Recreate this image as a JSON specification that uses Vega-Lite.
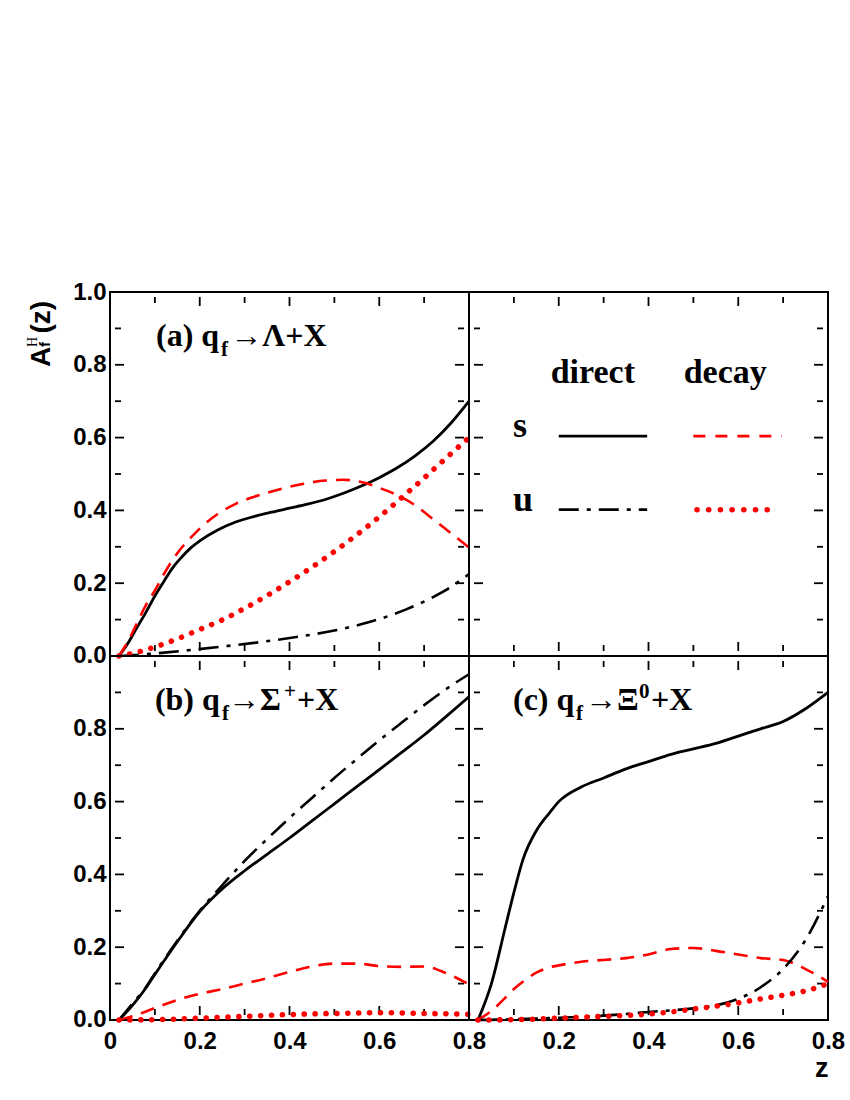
{
  "$schema": "https://vega.github.io/schema/vega-lite/v6.json",
  "padding": {"left": 24, "top": 279, "right": 5, "bottom": 5},
  "config": {
    "view": {"stroke": "black", "strokeWidth": 2},
    "axis": {"domain": false, "ticks": false, "grid": false, "labelFont": "Liberation Sans", "labelFontWeight": "bold", "labelFontSize": 24, "labelColor": "black", "labelOverlap": false, "labelFlush": false, "labelBound": false}
  },
  "datasets": {
    "txMaj": [{"v":0.2},{"v":0.4},{"v":0.6}],
    "txMin": [{"v":0.1},{"v":0.3},{"v":0.5},{"v":0.7}],
    "tyMaj": [{"v":0.2},{"v":0.4},{"v":0.6},{"v":0.8}],
    "tyMin": [{"v":0.1},{"v":0.3},{"v":0.5},{"v":0.7},{"v":0.9}],
    "a": [
      {"s":"sd","x":0.02,"y":0},{"s":"sd","x":0.04,"y":0.035},{"s":"sd","x":0.06,"y":0.078},{"s":"sd","x":0.08,"y":0.12},{"s":"sd","x":0.1,"y":0.165},{"s":"sd","x":0.12,"y":0.205},{"s":"sd","x":0.14,"y":0.243},{"s":"sd","x":0.16,"y":0.272},{"s":"sd","x":0.18,"y":0.297},{"s":"sd","x":0.2,"y":0.316},{"s":"sd","x":0.24,"y":0.346},{"s":"sd","x":0.28,"y":0.368},{"s":"sd","x":0.32,"y":0.383},{"s":"sd","x":0.36,"y":0.395},{"s":"sd","x":0.4,"y":0.406},{"s":"sd","x":0.44,"y":0.417},{"s":"sd","x":0.48,"y":0.43},{"s":"sd","x":0.52,"y":0.447},{"s":"sd","x":0.56,"y":0.467},{"s":"sd","x":0.6,"y":0.49},{"s":"sd","x":0.64,"y":0.517},{"s":"sd","x":0.68,"y":0.55},{"s":"sd","x":0.72,"y":0.59},{"s":"sd","x":0.76,"y":0.64},{"s":"sd","x":0.8,"y":0.7},
      {"s":"sy","x":0.02,"y":0},{"s":"sy","x":0.04,"y":0.04},{"s":"sy","x":0.06,"y":0.09},{"s":"sy","x":0.08,"y":0.14},{"s":"sy","x":0.1,"y":0.18},{"s":"sy","x":0.12,"y":0.225},{"s":"sy","x":0.14,"y":0.265},{"s":"sy","x":0.16,"y":0.298},{"s":"sy","x":0.18,"y":0.325},{"s":"sy","x":0.2,"y":0.35},{"s":"sy","x":0.24,"y":0.39},{"s":"sy","x":0.28,"y":0.418},{"s":"sy","x":0.32,"y":0.437},{"s":"sy","x":0.36,"y":0.452},{"s":"sy","x":0.4,"y":0.465},{"s":"sy","x":0.44,"y":0.475},{"s":"sy","x":0.48,"y":0.482},{"s":"sy","x":0.52,"y":0.484},{"s":"sy","x":0.56,"y":0.478},{"s":"sy","x":0.6,"y":0.462},{"s":"sy","x":0.64,"y":0.442},{"s":"sy","x":0.68,"y":0.414},{"s":"sy","x":0.72,"y":0.376},{"s":"sy","x":0.76,"y":0.337},{"s":"sy","x":0.8,"y":0.298},
      {"s":"ud","x":0.02,"y":0},{"s":"ud","x":0.08,"y":0.005},{"s":"ud","x":0.16,"y":0.014},{"s":"ud","x":0.25,"y":0.026},{"s":"ud","x":0.34,"y":0.039},{"s":"ud","x":0.42,"y":0.053},{"s":"ud","x":0.5,"y":0.07},{"s":"ud","x":0.58,"y":0.094},{"s":"ud","x":0.66,"y":0.128},{"s":"ud","x":0.72,"y":0.162},{"s":"ud","x":0.76,"y":0.19},{"s":"ud","x":0.8,"y":0.225},
      {"s":"uy","x":0.02,"y":0},{"s":"uy","x":0.06,"y":0.01},{"s":"uy","x":0.1,"y":0.025},{"s":"uy","x":0.15,"y":0.047},{"s":"uy","x":0.2,"y":0.073},{"s":"uy","x":0.25,"y":0.099},{"s":"uy","x":0.3,"y":0.131},{"s":"uy","x":0.35,"y":0.166},{"s":"uy","x":0.4,"y":0.204},{"s":"uy","x":0.45,"y":0.244},{"s":"uy","x":0.5,"y":0.287},{"s":"uy","x":0.55,"y":0.333},{"s":"uy","x":0.6,"y":0.382},{"s":"uy","x":0.65,"y":0.435},{"s":"uy","x":0.7,"y":0.489},{"s":"uy","x":0.75,"y":0.545},{"s":"uy","x":0.8,"y":0.6}
    ],
    "b": [
      {"s":"sd","x":0.02,"y":0},{"s":"sd","x":0.05,"y":0.04},{"s":"sd","x":0.08,"y":0.088},{"s":"sd","x":0.1,"y":0.125},{"s":"sd","x":0.15,"y":0.215},{"s":"sd","x":0.2,"y":0.298},{"s":"sd","x":0.25,"y":0.36},{"s":"sd","x":0.3,"y":0.41},{"s":"sd","x":0.35,"y":0.455},{"s":"sd","x":0.4,"y":0.5},{"s":"sd","x":0.45,"y":0.547},{"s":"sd","x":0.5,"y":0.594},{"s":"sd","x":0.55,"y":0.641},{"s":"sd","x":0.6,"y":0.688},{"s":"sd","x":0.65,"y":0.735},{"s":"sd","x":0.7,"y":0.783},{"s":"sd","x":0.75,"y":0.835},{"s":"sd","x":0.8,"y":0.888},
      {"s":"ud","x":0.02,"y":0},{"s":"ud","x":0.05,"y":0.045},{"s":"ud","x":0.08,"y":0.09},{"s":"ud","x":0.1,"y":0.128},{"s":"ud","x":0.15,"y":0.218},{"s":"ud","x":0.2,"y":0.3},{"s":"ud","x":0.25,"y":0.37},{"s":"ud","x":0.3,"y":0.437},{"s":"ud","x":0.35,"y":0.497},{"s":"ud","x":0.4,"y":0.555},{"s":"ud","x":0.45,"y":0.61},{"s":"ud","x":0.5,"y":0.665},{"s":"ud","x":0.55,"y":0.717},{"s":"ud","x":0.6,"y":0.768},{"s":"ud","x":0.65,"y":0.817},{"s":"ud","x":0.7,"y":0.865},{"s":"ud","x":0.75,"y":0.91},{"s":"ud","x":0.8,"y":0.95},
      {"s":"sy","x":0.02,"y":0},{"s":"sy","x":0.05,"y":0.01},{"s":"sy","x":0.1,"y":0.033},{"s":"sy","x":0.15,"y":0.055},{"s":"sy","x":0.2,"y":0.072},{"s":"sy","x":0.25,"y":0.085},{"s":"sy","x":0.3,"y":0.1},{"s":"sy","x":0.35,"y":0.115},{"s":"sy","x":0.4,"y":0.132},{"s":"sy","x":0.45,"y":0.147},{"s":"sy","x":0.5,"y":0.155},{"s":"sy","x":0.55,"y":0.155},{"s":"sy","x":0.6,"y":0.148},{"s":"sy","x":0.65,"y":0.146},{"s":"sy","x":0.7,"y":0.147},{"s":"sy","x":0.75,"y":0.128},{"s":"sy","x":0.8,"y":0.098},
      {"s":"uy","x":0.02,"y":0},{"s":"uy","x":0.1,"y":0.001},{"s":"uy","x":0.2,"y":0.005},{"s":"uy","x":0.3,"y":0.01},{"s":"uy","x":0.4,"y":0.015},{"s":"uy","x":0.5,"y":0.018},{"s":"uy","x":0.6,"y":0.02},{"s":"uy","x":0.7,"y":0.018},{"s":"uy","x":0.8,"y":0.016}
    ],
    "c": [
      {"s":"sd","x":0.02,"y":0},{"s":"sd","x":0.05,"y":0.1},{"s":"sd","x":0.08,"y":0.25},{"s":"sd","x":0.1,"y":0.35},{"s":"sd","x":0.12,"y":0.44},{"s":"sd","x":0.15,"y":0.52},{"s":"sd","x":0.18,"y":0.57},{"s":"sd","x":0.2,"y":0.6},{"s":"sd","x":0.25,"y":0.64},{"s":"sd","x":0.3,"y":0.665},{"s":"sd","x":0.35,"y":0.69},{"s":"sd","x":0.4,"y":0.71},{"s":"sd","x":0.45,"y":0.73},{"s":"sd","x":0.5,"y":0.745},{"s":"sd","x":0.55,"y":0.76},{"s":"sd","x":0.6,"y":0.78},{"s":"sd","x":0.65,"y":0.8},{"s":"sd","x":0.7,"y":0.82},{"s":"sd","x":0.75,"y":0.855},{"s":"sd","x":0.8,"y":0.9},
      {"s":"sy","x":0.02,"y":0},{"s":"sy","x":0.05,"y":0.025},{"s":"sy","x":0.08,"y":0.06},{"s":"sy","x":0.1,"y":0.085},{"s":"sy","x":0.12,"y":0.105},{"s":"sy","x":0.15,"y":0.13},{"s":"sy","x":0.18,"y":0.145},{"s":"sy","x":0.2,"y":0.15},{"s":"sy","x":0.25,"y":0.16},{"s":"sy","x":0.3,"y":0.165},{"s":"sy","x":0.35,"y":0.17},{"s":"sy","x":0.4,"y":0.18},{"s":"sy","x":0.45,"y":0.195},{"s":"sy","x":0.5,"y":0.198},{"s":"sy","x":0.55,"y":0.19},{"s":"sy","x":0.6,"y":0.18},{"s":"sy","x":0.65,"y":0.17},{"s":"sy","x":0.7,"y":0.165},{"s":"sy","x":0.75,"y":0.14},{"s":"sy","x":0.8,"y":0.105},
      {"s":"ud","x":0.02,"y":0},{"s":"ud","x":0.1,"y":0.002},{"s":"ud","x":0.2,"y":0.006},{"s":"ud","x":0.3,"y":0.012},{"s":"ud","x":0.4,"y":0.022},{"s":"ud","x":0.5,"y":0.032},{"s":"ud","x":0.55,"y":0.04},{"s":"ud","x":0.6,"y":0.058},{"s":"ud","x":0.65,"y":0.09},{"s":"ud","x":0.7,"y":0.14},{"s":"ud","x":0.75,"y":0.22},{"s":"ud","x":0.8,"y":0.34},
      {"s":"uy","x":0.02,"y":0},{"s":"uy","x":0.1,"y":0.001},{"s":"uy","x":0.2,"y":0.005},{"s":"uy","x":0.3,"y":0.01},{"s":"uy","x":0.4,"y":0.016},{"s":"uy","x":0.45,"y":0.022},{"s":"uy","x":0.5,"y":0.03},{"s":"uy","x":0.55,"y":0.038},{"s":"uy","x":0.6,"y":0.047},{"s":"uy","x":0.65,"y":0.058},{"s":"uy","x":0.7,"y":0.068},{"s":"uy","x":0.75,"y":0.08},{"s":"uy","x":0.8,"y":0.1}
    ],
    "leg": [
      {"s":"sd","x":0.2,"y":0.604},{"s":"sd","x":0.397,"y":0.604},
      {"s":"sy","x":0.5,"y":0.604},{"s":"sy","x":0.697,"y":0.604},
      {"s":"ud","x":0.2,"y":0.402},{"s":"ud","x":0.397,"y":0.402},
      {"s":"uy","x":0.508,"y":0.402},{"s":"uy","x":0.689,"y":0.402}
    ],
    "legHead": [{"x":0.276,"y":0.75,"t":"direct"},{"x":0.571,"y":0.75,"t":"decay"}],
    "legRow": [{"x":0.098,"y":0.602,"t":"s"},{"x":0.098,"y":0.398,"t":"u"}],
    "taMain": [{"x":0.1025,"y":0.852,"t":"(a) q"},{"x":0.268,"y":0.852,"t":"→Λ+X"}],
    "taSub": [{"x":0.2473,"y":0.824,"t":"f"}],
    "tbMain": [{"x":0.1,"y":0.852,"t":"(b) q"},{"x":0.263,"y":0.852,"t":"→Σ"},{"x":0.4167,"y":0.852,"t":"+X"}],
    "tbSub": [{"x":0.2496,"y":0.824,"t":"f"},{"x":0.3877,"y":0.885,"t":"+"}],
    "tcMain": [{"x":0.098,"y":0.852,"t":"(c) q"},{"x":0.2585,"y":0.852,"t":"→Ξ"},{"x":0.4056,"y":0.852,"t":"+X"}],
    "tcSub": [{"x":0.2384,"y":0.824,"t":"f"},{"x":0.3788,"y":0.885,"t":"0"}],
    "yMain": [{"x":-0.134,"y":0.794,"t":"A"},{"x":-0.134,"y":0.886,"t":"(z)"}],
    "ySub": [{"x":-0.134,"y":0.849,"t":"f"}],
    "ySup": [{"x":-0.163,"y":0.849,"t":"H"}]
  },
  "concat": [
    {
      "width": 359, "height": 364,
      "resolve": {"axis": {"x": "independent", "y": "independent"}},
      "layer": [
        {"data": {"name": "a"}, "transform": [{"filter": "datum.s == 'sd'"}], "mark": {"type": "line", "color": "black", "strokeWidth": 2.8, "interpolate": "monotone"},
         "encoding": {
           "x": {"field": "x", "type": "quantitative", "scale": {"domain": [0.011142, 0.788858], "nice": false, "zero": false}, "axis": null},
           "y": {"field": "y", "type": "quantitative", "scale": {"domain": [0.013736, 0.986264], "nice": false, "zero": false}, "axis": {"orient": "left", "title": null, "labelPadding": 4, "values": [0,0.2,0.4,0.6,0.8,1.0], "format": ".1f"}}
         }},
        {"data": {"name": "txMaj"}, "mark": {"type": "bar", "color": "black", "size": 1.8}, "encoding": {"x": {"field": "v", "type": "quantitative", "axis": null}, "y": {"datum": 0.0137, "axis": null}, "y2": {"datum": 0.0385}}},
        {"data": {"name": "txMin"}, "mark": {"type": "bar", "color": "black", "size": 1.8}, "encoding": {"x": {"field": "v", "type": "quantitative", "axis": null}, "y": {"datum": 0.0137, "axis": null}, "y2": {"datum": 0.0302}}},
        {"data": {"name": "txMaj"}, "mark": {"type": "bar", "color": "black", "size": 1.8}, "encoding": {"x": {"field": "v", "type": "quantitative", "axis": null}, "y": {"datum": 0.9863, "axis": null}, "y2": {"datum": 0.9615}}},
        {"data": {"name": "txMin"}, "mark": {"type": "bar", "color": "black", "size": 1.8}, "encoding": {"x": {"field": "v", "type": "quantitative", "axis": null}, "y": {"datum": 0.9863, "axis": null}, "y2": {"datum": 0.9698}}},
        {"data": {"name": "tyMaj"}, "mark": {"type": "bar", "color": "black", "size": 1.8}, "encoding": {"y": {"field": "v", "type": "quantitative", "axis": null}, "x": {"datum": 0.0111, "axis": null}, "x2": {"datum": 0.0312}}},
        {"data": {"name": "tyMin"}, "mark": {"type": "bar", "color": "black", "size": 1.8}, "encoding": {"y": {"field": "v", "type": "quantitative", "axis": null}, "x": {"datum": 0.0111, "axis": null}, "x2": {"datum": 0.0245}}},
        {"data": {"name": "tyMaj"}, "mark": {"type": "bar", "color": "black", "size": 1.8}, "encoding": {"y": {"field": "v", "type": "quantitative", "axis": null}, "x": {"datum": 0.7889, "axis": null}, "x2": {"datum": 0.7688}}},
        {"data": {"name": "tyMin"}, "mark": {"type": "bar", "color": "black", "size": 1.8}, "encoding": {"y": {"field": "v", "type": "quantitative", "axis": null}, "x": {"datum": 0.7889, "axis": null}, "x2": {"datum": 0.7755}}},
        {"data": {"name": "a"}, "transform": [{"filter": "datum.s == 'sy'"}], "mark": {"type": "line", "color": "#ff0000", "strokeWidth": 2.6, "strokeDash": [14, 9], "interpolate": "monotone"},
         "encoding": {"x": {"field": "x", "type": "quantitative", "axis": null}, "y": {"field": "y", "type": "quantitative", "axis": null}}},
        {"data": {"name": "a"}, "transform": [{"filter": "datum.s == 'ud'"}], "mark": {"type": "line", "color": "black", "strokeWidth": 2.6, "strokeDash": [20, 8, 4, 8], "interpolate": "monotone"},
         "encoding": {"x": {"field": "x", "type": "quantitative", "axis": null}, "y": {"field": "y", "type": "quantitative", "axis": null}}},
        {"data": {"name": "a"}, "transform": [{"filter": "datum.s == 'uy'"}], "mark": {"type": "line", "color": "#ff0000", "strokeWidth": 5.5, "strokeCap": "round", "strokeDash": [0.1, 10.8], "interpolate": "monotone"},
         "encoding": {"x": {"field": "x", "type": "quantitative", "axis": null}, "y": {"field": "y", "type": "quantitative", "axis": null}}},
        {"data": {"name": "taMain"}, "mark": {"type": "text", "font": "Liberation Serif", "fontWeight": "bold", "fontSize": 32, "align": "left", "baseline": "alphabetic", "color": "black"},
         "encoding": {"x": {"field": "x", "type": "quantitative", "axis": null}, "y": {"field": "y", "type": "quantitative", "axis": null}, "text": {"field": "t"}}},
        {"data": {"name": "taSub"}, "mark": {"type": "text", "font": "Liberation Serif", "fontWeight": "bold", "fontSize": 21, "align": "left", "baseline": "alphabetic", "color": "black"},
         "encoding": {"x": {"field": "x", "type": "quantitative", "axis": null}, "y": {"field": "y", "type": "quantitative", "axis": null}, "text": {"field": "t"}}},
        {"data": {"name": "yMain"}, "mark": {"type": "text", "font": "Liberation Sans", "fontWeight": "bold", "fontSize": 28, "align": "left", "baseline": "alphabetic", "angle": 270, "color": "black"},
         "encoding": {"x": {"field": "x", "type": "quantitative", "axis": null}, "y": {"field": "y", "type": "quantitative", "axis": null}, "text": {"field": "t"}}},
        {"data": {"name": "ySub"}, "mark": {"type": "text", "font": "Liberation Sans", "fontWeight": "bold", "fontSize": 15, "align": "left", "baseline": "alphabetic", "angle": 270, "color": "black"},
         "encoding": {"x": {"field": "x", "type": "quantitative", "axis": null}, "y": {"field": "y", "type": "quantitative", "axis": null}, "text": {"field": "t"}}},
        {"data": {"name": "ySup"}, "mark": {"type": "text", "font": "Liberation Serif", "fontSize": 14, "align": "left", "baseline": "alphabetic", "angle": 270, "color": "black"},
         "encoding": {"x": {"field": "x", "type": "quantitative", "axis": null}, "y": {"field": "y", "type": "quantitative", "axis": null}, "text": {"field": "t"}}}
      ]
    },
    {
      "width": 359, "height": 364,
      "resolve": {"axis": {"x": "independent", "y": "independent"}},
      "layer": [
        {"data": {"name": "leg"}, "transform": [{"filter": "datum.s == 'sd'"}], "mark": {"type": "line", "color": "black", "strokeWidth": 2.8},
         "encoding": {
           "x": {"field": "x", "type": "quantitative", "scale": {"domain": [0.011142, 0.788858], "nice": false, "zero": false}, "axis": null},
           "y": {"field": "y", "type": "quantitative", "scale": {"domain": [0.013736, 0.986264], "nice": false, "zero": false}, "axis": null}
         }},
        {"data": {"name": "txMaj"}, "mark": {"type": "bar", "color": "black", "size": 1.8}, "encoding": {"x": {"field": "v", "type": "quantitative", "axis": null}, "y": {"datum": 0.0137, "axis": null}, "y2": {"datum": 0.0385}}},
        {"data": {"name": "txMin"}, "mark": {"type": "bar", "color": "black", "size": 1.8}, "encoding": {"x": {"field": "v", "type": "quantitative", "axis": null}, "y": {"datum": 0.0137, "axis": null}, "y2": {"datum": 0.0302}}},
        {"data": {"name": "txMaj"}, "mark": {"type": "bar", "color": "black", "size": 1.8}, "encoding": {"x": {"field": "v", "type": "quantitative", "axis": null}, "y": {"datum": 0.9863, "axis": null}, "y2": {"datum": 0.9615}}},
        {"data": {"name": "txMin"}, "mark": {"type": "bar", "color": "black", "size": 1.8}, "encoding": {"x": {"field": "v", "type": "quantitative", "axis": null}, "y": {"datum": 0.9863, "axis": null}, "y2": {"datum": 0.9698}}},
        {"data": {"name": "tyMaj"}, "mark": {"type": "bar", "color": "black", "size": 1.8}, "encoding": {"y": {"field": "v", "type": "quantitative", "axis": null}, "x": {"datum": 0.0111, "axis": null}, "x2": {"datum": 0.0312}}},
        {"data": {"name": "tyMin"}, "mark": {"type": "bar", "color": "black", "size": 1.8}, "encoding": {"y": {"field": "v", "type": "quantitative", "axis": null}, "x": {"datum": 0.0111, "axis": null}, "x2": {"datum": 0.0245}}},
        {"data": {"name": "tyMaj"}, "mark": {"type": "bar", "color": "black", "size": 1.8}, "encoding": {"y": {"field": "v", "type": "quantitative", "axis": null}, "x": {"datum": 0.7889, "axis": null}, "x2": {"datum": 0.7688}}},
        {"data": {"name": "tyMin"}, "mark": {"type": "bar", "color": "black", "size": 1.8}, "encoding": {"y": {"field": "v", "type": "quantitative", "axis": null}, "x": {"datum": 0.7889, "axis": null}, "x2": {"datum": 0.7755}}},
        {"data": {"name": "leg"}, "transform": [{"filter": "datum.s == 'sy'"}], "mark": {"type": "line", "color": "#ff0000", "strokeWidth": 2.6, "strokeDash": [12, 10]},
         "encoding": {"x": {"field": "x", "type": "quantitative", "axis": null}, "y": {"field": "y", "type": "quantitative", "axis": null}}},
        {"data": {"name": "leg"}, "transform": [{"filter": "datum.s == 'ud'"}], "mark": {"type": "line", "color": "black", "strokeWidth": 2.6, "strokeDash": [20, 8, 4, 8]},
         "encoding": {"x": {"field": "x", "type": "quantitative", "axis": null}, "y": {"field": "y", "type": "quantitative", "axis": null}}},
        {"data": {"name": "leg"}, "transform": [{"filter": "datum.s == 'uy'"}], "mark": {"type": "line", "color": "#ff0000", "strokeWidth": 5.5, "strokeCap": "round", "strokeDash": [0.1, 11.6]},
         "encoding": {"x": {"field": "x", "type": "quantitative", "axis": null}, "y": {"field": "y", "type": "quantitative", "axis": null}}},
        {"data": {"name": "legHead"}, "mark": {"type": "text", "font": "Liberation Serif", "fontWeight": "bold", "fontSize": 34, "align": "center", "baseline": "alphabetic", "color": "black"},
         "encoding": {"x": {"field": "x", "type": "quantitative", "axis": null}, "y": {"field": "y", "type": "quantitative", "axis": null}, "text": {"field": "t"}}},
        {"data": {"name": "legRow"}, "mark": {"type": "text", "font": "Liberation Serif", "fontWeight": "bold", "fontSize": 36, "align": "left", "baseline": "alphabetic", "color": "black"},
         "encoding": {"x": {"field": "x", "type": "quantitative", "axis": null}, "y": {"field": "y", "type": "quantitative", "axis": null}, "text": {"field": "t"}}}
      ]
    },
    {
      "width": 359, "height": 364,
      "resolve": {"axis": {"x": "independent", "y": "independent"}},
      "layer": [
        {"data": {"name": "b"}, "transform": [{"filter": "datum.s == 'sd'"}], "mark": {"type": "line", "color": "black", "strokeWidth": 2.8, "interpolate": "monotone"},
         "encoding": {
           "x": {"field": "x", "type": "quantitative", "scale": {"domain": [0.011142, 0.788858], "nice": false, "zero": false}, "axis": {"orient": "bottom", "title": null, "labelPadding": 9, "values": [0,0.2,0.4,0.6,0.8], "labelExpr": "datum.value == 0 ? '0' : format(datum.value, '.1f')"}},
           "y": {"field": "y", "type": "quantitative", "scale": {"domain": [0.013736, 0.986264], "nice": false, "zero": false}, "axis": {"orient": "left", "title": null, "labelPadding": 4, "values": [0,0.2,0.4,0.6,0.8,1.0], "labelExpr": "datum.value > 0.95 ? '' : format(datum.value, '.1f')"}}
         }},
        {"data": {"name": "txMaj"}, "mark": {"type": "bar", "color": "black", "size": 1.8}, "encoding": {"x": {"field": "v", "type": "quantitative", "axis": null}, "y": {"datum": 0.0137, "axis": null}, "y2": {"datum": 0.0385}}},
        {"data": {"name": "txMin"}, "mark": {"type": "bar", "color": "black", "size": 1.8}, "encoding": {"x": {"field": "v", "type": "quantitative", "axis": null}, "y": {"datum": 0.0137, "axis": null}, "y2": {"datum": 0.0302}}},
        {"data": {"name": "txMaj"}, "mark": {"type": "bar", "color": "black", "size": 1.8}, "encoding": {"x": {"field": "v", "type": "quantitative", "axis": null}, "y": {"datum": 0.9863, "axis": null}, "y2": {"datum": 0.9615}}},
        {"data": {"name": "txMin"}, "mark": {"type": "bar", "color": "black", "size": 1.8}, "encoding": {"x": {"field": "v", "type": "quantitative", "axis": null}, "y": {"datum": 0.9863, "axis": null}, "y2": {"datum": 0.9698}}},
        {"data": {"name": "tyMaj"}, "mark": {"type": "bar", "color": "black", "size": 1.8}, "encoding": {"y": {"field": "v", "type": "quantitative", "axis": null}, "x": {"datum": 0.0111, "axis": null}, "x2": {"datum": 0.0312}}},
        {"data": {"name": "tyMin"}, "mark": {"type": "bar", "color": "black", "size": 1.8}, "encoding": {"y": {"field": "v", "type": "quantitative", "axis": null}, "x": {"datum": 0.0111, "axis": null}, "x2": {"datum": 0.0245}}},
        {"data": {"name": "tyMaj"}, "mark": {"type": "bar", "color": "black", "size": 1.8}, "encoding": {"y": {"field": "v", "type": "quantitative", "axis": null}, "x": {"datum": 0.7889, "axis": null}, "x2": {"datum": 0.7688}}},
        {"data": {"name": "tyMin"}, "mark": {"type": "bar", "color": "black", "size": 1.8}, "encoding": {"y": {"field": "v", "type": "quantitative", "axis": null}, "x": {"datum": 0.7889, "axis": null}, "x2": {"datum": 0.7755}}},
        {"data": {"name": "b"}, "transform": [{"filter": "datum.s == 'sy'"}], "mark": {"type": "line", "color": "#ff0000", "strokeWidth": 2.6, "strokeDash": [14, 9], "interpolate": "monotone"},
         "encoding": {"x": {"field": "x", "type": "quantitative", "axis": null}, "y": {"field": "y", "type": "quantitative", "axis": null}}},
        {"data": {"name": "b"}, "transform": [{"filter": "datum.s == 'ud'"}], "mark": {"type": "line", "color": "black", "strokeWidth": 2.6, "strokeDash": [20, 8, 4, 8], "interpolate": "monotone"},
         "encoding": {"x": {"field": "x", "type": "quantitative", "axis": null}, "y": {"field": "y", "type": "quantitative", "axis": null}}},
        {"data": {"name": "b"}, "transform": [{"filter": "datum.s == 'uy'"}], "mark": {"type": "line", "color": "#ff0000", "strokeWidth": 5.5, "strokeCap": "round", "strokeDash": [0.1, 10.8], "interpolate": "monotone"},
         "encoding": {"x": {"field": "x", "type": "quantitative", "axis": null}, "y": {"field": "y", "type": "quantitative", "axis": null}}},
        {"data": {"name": "tbMain"}, "mark": {"type": "text", "font": "Liberation Serif", "fontWeight": "bold", "fontSize": 32, "align": "left", "baseline": "alphabetic", "color": "black"},
         "encoding": {"x": {"field": "x", "type": "quantitative", "axis": null}, "y": {"field": "y", "type": "quantitative", "axis": null}, "text": {"field": "t"}}},
        {"data": {"name": "tbSub"}, "mark": {"type": "text", "font": "Liberation Serif", "fontWeight": "bold", "fontSize": 21, "align": "left", "baseline": "alphabetic", "color": "black"},
         "encoding": {"x": {"field": "x", "type": "quantitative", "axis": null}, "y": {"field": "y", "type": "quantitative", "axis": null}, "text": {"field": "t"}}}
      ]
    },
    {
      "width": 359, "height": 364,
      "resolve": {"axis": {"x": "independent", "y": "independent"}},
      "layer": [
        {"data": {"name": "c"}, "transform": [{"filter": "datum.s == 'sd'"}], "mark": {"type": "line", "color": "black", "strokeWidth": 2.8, "interpolate": "monotone"},
         "encoding": {
           "x": {"field": "x", "type": "quantitative", "scale": {"domain": [0.011142, 0.788858], "nice": false, "zero": false}, "axis": {"orient": "bottom", "title": "z", "titleFont": "Liberation Sans", "titleFontWeight": "bold", "titleFontSize": 27, "titleColor": "black", "titleAnchor": "end", "titleAlign": "right", "titlePadding": 2, "labelPadding": 9, "values": [0,0.2,0.4,0.6,0.8], "labelExpr": "datum.value == 0 ? '' : format(datum.value, '.1f')"}},
           "y": {"field": "y", "type": "quantitative", "scale": {"domain": [0.013736, 0.986264], "nice": false, "zero": false}, "axis": null}
         }},
        {"data": {"name": "txMaj"}, "mark": {"type": "bar", "color": "black", "size": 1.8}, "encoding": {"x": {"field": "v", "type": "quantitative", "axis": null}, "y": {"datum": 0.0137, "axis": null}, "y2": {"datum": 0.0385}}},
        {"data": {"name": "txMin"}, "mark": {"type": "bar", "color": "black", "size": 1.8}, "encoding": {"x": {"field": "v", "type": "quantitative", "axis": null}, "y": {"datum": 0.0137, "axis": null}, "y2": {"datum": 0.0302}}},
        {"data": {"name": "txMaj"}, "mark": {"type": "bar", "color": "black", "size": 1.8}, "encoding": {"x": {"field": "v", "type": "quantitative", "axis": null}, "y": {"datum": 0.9863, "axis": null}, "y2": {"datum": 0.9615}}},
        {"data": {"name": "txMin"}, "mark": {"type": "bar", "color": "black", "size": 1.8}, "encoding": {"x": {"field": "v", "type": "quantitative", "axis": null}, "y": {"datum": 0.9863, "axis": null}, "y2": {"datum": 0.9698}}},
        {"data": {"name": "tyMaj"}, "mark": {"type": "bar", "color": "black", "size": 1.8}, "encoding": {"y": {"field": "v", "type": "quantitative", "axis": null}, "x": {"datum": 0.0111, "axis": null}, "x2": {"datum": 0.0312}}},
        {"data": {"name": "tyMin"}, "mark": {"type": "bar", "color": "black", "size": 1.8}, "encoding": {"y": {"field": "v", "type": "quantitative", "axis": null}, "x": {"datum": 0.0111, "axis": null}, "x2": {"datum": 0.0245}}},
        {"data": {"name": "tyMaj"}, "mark": {"type": "bar", "color": "black", "size": 1.8}, "encoding": {"y": {"field": "v", "type": "quantitative", "axis": null}, "x": {"datum": 0.7889, "axis": null}, "x2": {"datum": 0.7688}}},
        {"data": {"name": "tyMin"}, "mark": {"type": "bar", "color": "black", "size": 1.8}, "encoding": {"y": {"field": "v", "type": "quantitative", "axis": null}, "x": {"datum": 0.7889, "axis": null}, "x2": {"datum": 0.7755}}},
        {"data": {"name": "c"}, "transform": [{"filter": "datum.s == 'sy'"}], "mark": {"type": "line", "color": "#ff0000", "strokeWidth": 2.6, "strokeDash": [14, 9], "interpolate": "monotone"},
         "encoding": {"x": {"field": "x", "type": "quantitative", "axis": null}, "y": {"field": "y", "type": "quantitative", "axis": null}}},
        {"data": {"name": "c"}, "transform": [{"filter": "datum.s == 'ud'"}], "mark": {"type": "line", "color": "black", "strokeWidth": 2.6, "strokeDash": [20, 8, 4, 8], "interpolate": "monotone"},
         "encoding": {"x": {"field": "x", "type": "quantitative", "axis": null}, "y": {"field": "y", "type": "quantitative", "axis": null}}},
        {"data": {"name": "c"}, "transform": [{"filter": "datum.s == 'uy'"}], "mark": {"type": "line", "color": "#ff0000", "strokeWidth": 5.5, "strokeCap": "round", "strokeDash": [0.1, 10.8], "interpolate": "monotone"},
         "encoding": {"x": {"field": "x", "type": "quantitative", "axis": null}, "y": {"field": "y", "type": "quantitative", "axis": null}}},
        {"data": {"name": "tcMain"}, "mark": {"type": "text", "font": "Liberation Serif", "fontWeight": "bold", "fontSize": 32, "align": "left", "baseline": "alphabetic", "color": "black"},
         "encoding": {"x": {"field": "x", "type": "quantitative", "axis": null}, "y": {"field": "y", "type": "quantitative", "axis": null}, "text": {"field": "t"}}},
        {"data": {"name": "tcSub"}, "mark": {"type": "text", "font": "Liberation Serif", "fontWeight": "bold", "fontSize": 21, "align": "left", "baseline": "alphabetic", "color": "black"},
         "encoding": {"x": {"field": "x", "type": "quantitative", "axis": null}, "y": {"field": "y", "type": "quantitative", "axis": null}, "text": {"field": "t"}}}
      ]
    }
  ],
  "columns": 2,
  "spacing": 0,
  "bounds": "flush"
}
